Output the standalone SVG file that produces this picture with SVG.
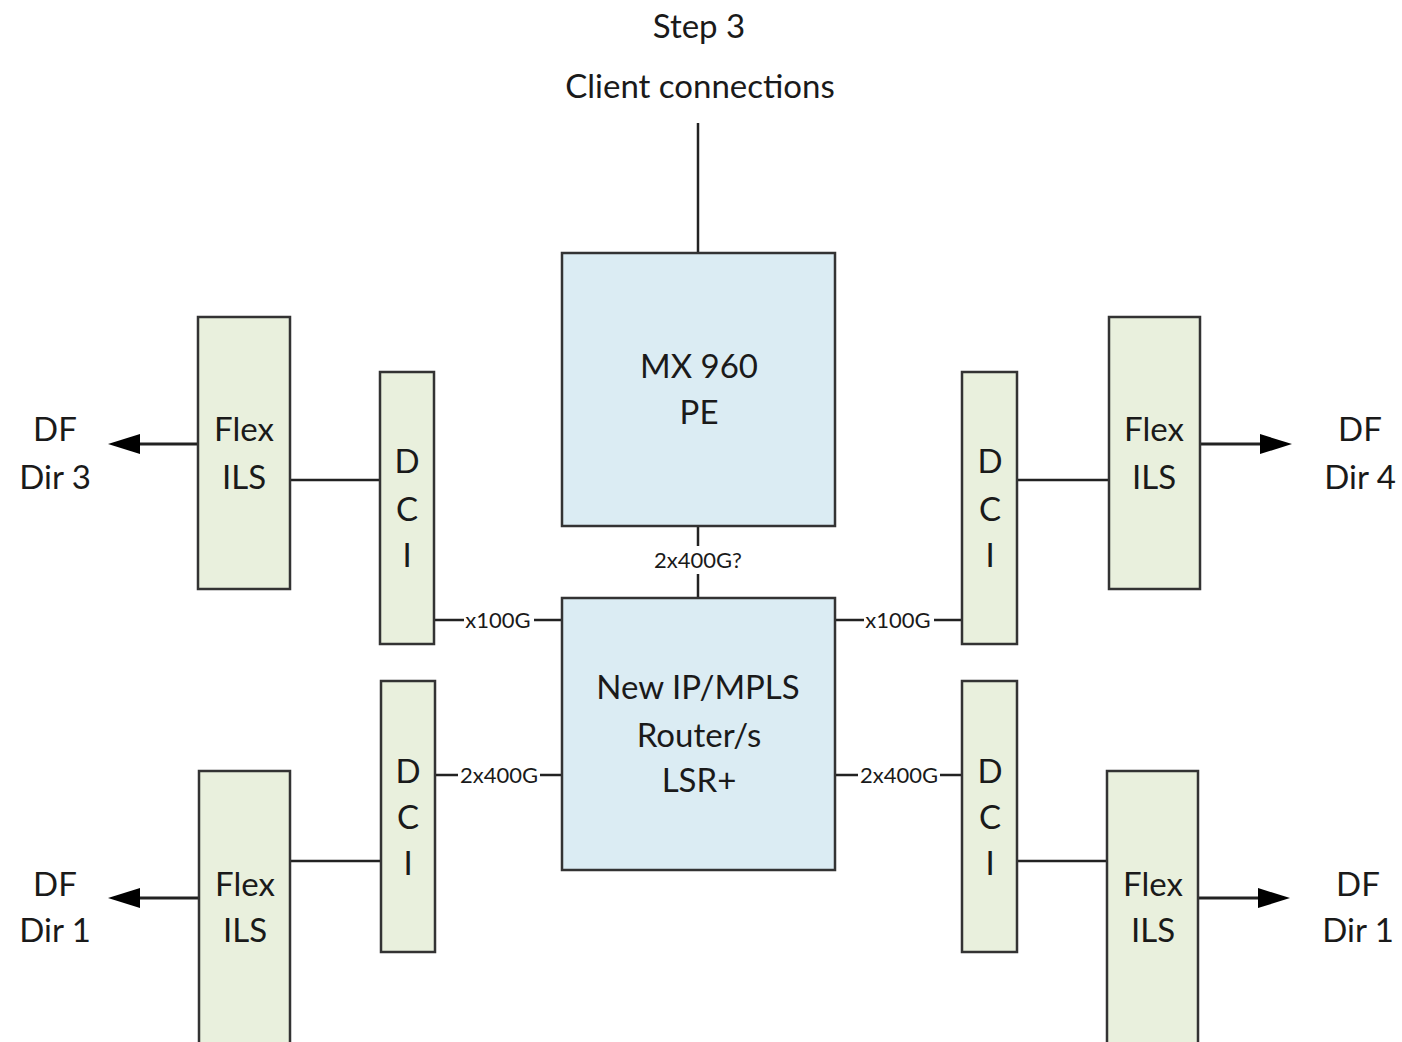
<svg xmlns="http://www.w3.org/2000/svg" width="1402" height="1042" viewBox="0 0 1402 1042">
<defs>
<style>
.t{font-family:Lato,"Open Sans",sans-serif;fill:#1a1a1a;text-anchor:middle}
.big{font-size:33px}
.sm{font-size:22px}
.g{fill:#e9f0dd;stroke:#333;stroke-width:2.5}
.b{fill:#dbecf3;stroke:#333;stroke-width:2.5}
.ln{stroke:#222;stroke-width:2.5;fill:none}
.ar{stroke:#222;stroke-width:3;fill:none}
.lbl{fill:#fff}
</style>
</defs>
<rect width="1402" height="1042" fill="#fff"/>
<g id="connectors">
<line class="ln" x1="698" y1="123" x2="698" y2="253"/>
<line class="ln" x1="698" y1="526" x2="698" y2="598"/>
<line class="ln" x1="290" y1="480" x2="380" y2="480"/>
<line class="ln" x1="434" y1="620" x2="562" y2="620"/>
<line class="ln" x1="290" y1="861" x2="381" y2="861"/>
<line class="ln" x1="435" y1="775" x2="562" y2="775"/>
<line class="ln" x1="1017" y1="480" x2="1109" y2="480"/>
<line class="ln" x1="835" y1="620" x2="962" y2="620"/>
<line class="ln" x1="1017" y1="861" x2="1107" y2="861"/>
<line class="ln" x1="835" y1="775" x2="962" y2="775"/>
<line class="ar" x1="198" y1="444" x2="140" y2="444"/>
<path d="M140,434 L108,444 L140,454 z" fill="#000"/>
<line class="ar" x1="199" y1="898" x2="140" y2="898"/>
<path d="M140,888 L108,898 L140,908 z" fill="#000"/>
<line class="ar" x1="1200" y1="444" x2="1260" y2="444"/>
<path d="M1260,434 L1292,444 L1260,454 z" fill="#000"/>
<line class="ar" x1="1198" y1="898" x2="1258" y2="898"/>
<path d="M1258,888 L1290,898 L1258,908 z" fill="#000"/>
<rect class="lbl" x="652" y="546" width="92" height="28"/>
<text class="t sm" x="698" y="568">2x400G?</text>
<rect class="lbl" x="464" y="609" width="70" height="22"/>
<text class="t sm" x="498" y="628">x100G</text>
<rect class="lbl" x="458" y="764" width="82" height="22"/>
<text class="t sm" x="499" y="783">2x400G</text>
<rect class="lbl" x="864" y="609" width="70" height="22"/>
<text class="t sm" x="898" y="628">x100G</text>
<rect class="lbl" x="858" y="764" width="82" height="22"/>
<text class="t sm" x="899" y="783">2x400G</text>
</g>
<g id="title">
<text class="t big" x="699" y="38">Step 3</text>
<text class="t big" x="700" y="98">Client connections</text>
</g>
<g id="mx960">
<rect class="b" x="562" y="253" width="273" height="273"/>
<text class="t big" x="699" y="378">MX 960</text>
<text class="t big" x="699" y="424">PE</text>
</g>
<g id="router">
<rect class="b" x="562" y="598" width="273" height="272"/>
<text class="t big" x="698" y="699">New IP/MPLS</text>
<text class="t big" x="699" y="747">Router/s</text>
<text class="t big" x="699" y="792">LSR+</text>
</g>
<g id="flex-tl">
<rect class="g" x="198" y="317" width="92" height="272"/>
<text class="t big" x="244" y="441">Flex</text>
<text class="t big" x="244" y="489">ILS</text>
</g>
<g id="dci-tl">
<rect class="g" x="380" y="372" width="54" height="272"/>
<text class="t big" x="407" y="473">D</text>
<text class="t big" x="407" y="521">C</text>
<text class="t big" x="407" y="567">I</text>
</g>
<g id="flex-bl">
<rect class="g" x="199" y="771" width="91" height="275"/>
<text class="t big" x="245" y="896">Flex</text>
<text class="t big" x="245" y="942">ILS</text>
</g>
<g id="dci-bl">
<rect class="g" x="381" y="681" width="54" height="271"/>
<text class="t big" x="408" y="783">D</text>
<text class="t big" x="408" y="829">C</text>
<text class="t big" x="408" y="875">I</text>
</g>
<g id="flex-tr">
<rect class="g" x="1109" y="317" width="91" height="272"/>
<text class="t big" x="1154" y="441">Flex</text>
<text class="t big" x="1154" y="489">ILS</text>
</g>
<g id="dci-tr">
<rect class="g" x="962" y="372" width="55" height="272"/>
<text class="t big" x="990" y="473">D</text>
<text class="t big" x="990" y="521">C</text>
<text class="t big" x="990" y="567">I</text>
</g>
<g id="flex-br">
<rect class="g" x="1107" y="771" width="91" height="275"/>
<text class="t big" x="1153" y="896">Flex</text>
<text class="t big" x="1153" y="942">ILS</text>
</g>
<g id="dci-br">
<rect class="g" x="962" y="681" width="55" height="271"/>
<text class="t big" x="990" y="783">D</text>
<text class="t big" x="990" y="829">C</text>
<text class="t big" x="990" y="875">I</text>
</g>
<g id="df-3">
<text class="t big" x="55" y="441">DF</text>
<text class="t big" x="55" y="489">Dir 3</text>
</g>
<g id="df-1-left">
<text class="t big" x="55" y="896">DF</text>
<text class="t big" x="55" y="942">Dir 1</text>
</g>
<g id="df-4">
<text class="t big" x="1360" y="441">DF</text>
<text class="t big" x="1360" y="489">Dir 4</text>
</g>
<g id="df-1-right">
<text class="t big" x="1358" y="896">DF</text>
<text class="t big" x="1358" y="942">Dir 1</text>
</g>
</svg>
